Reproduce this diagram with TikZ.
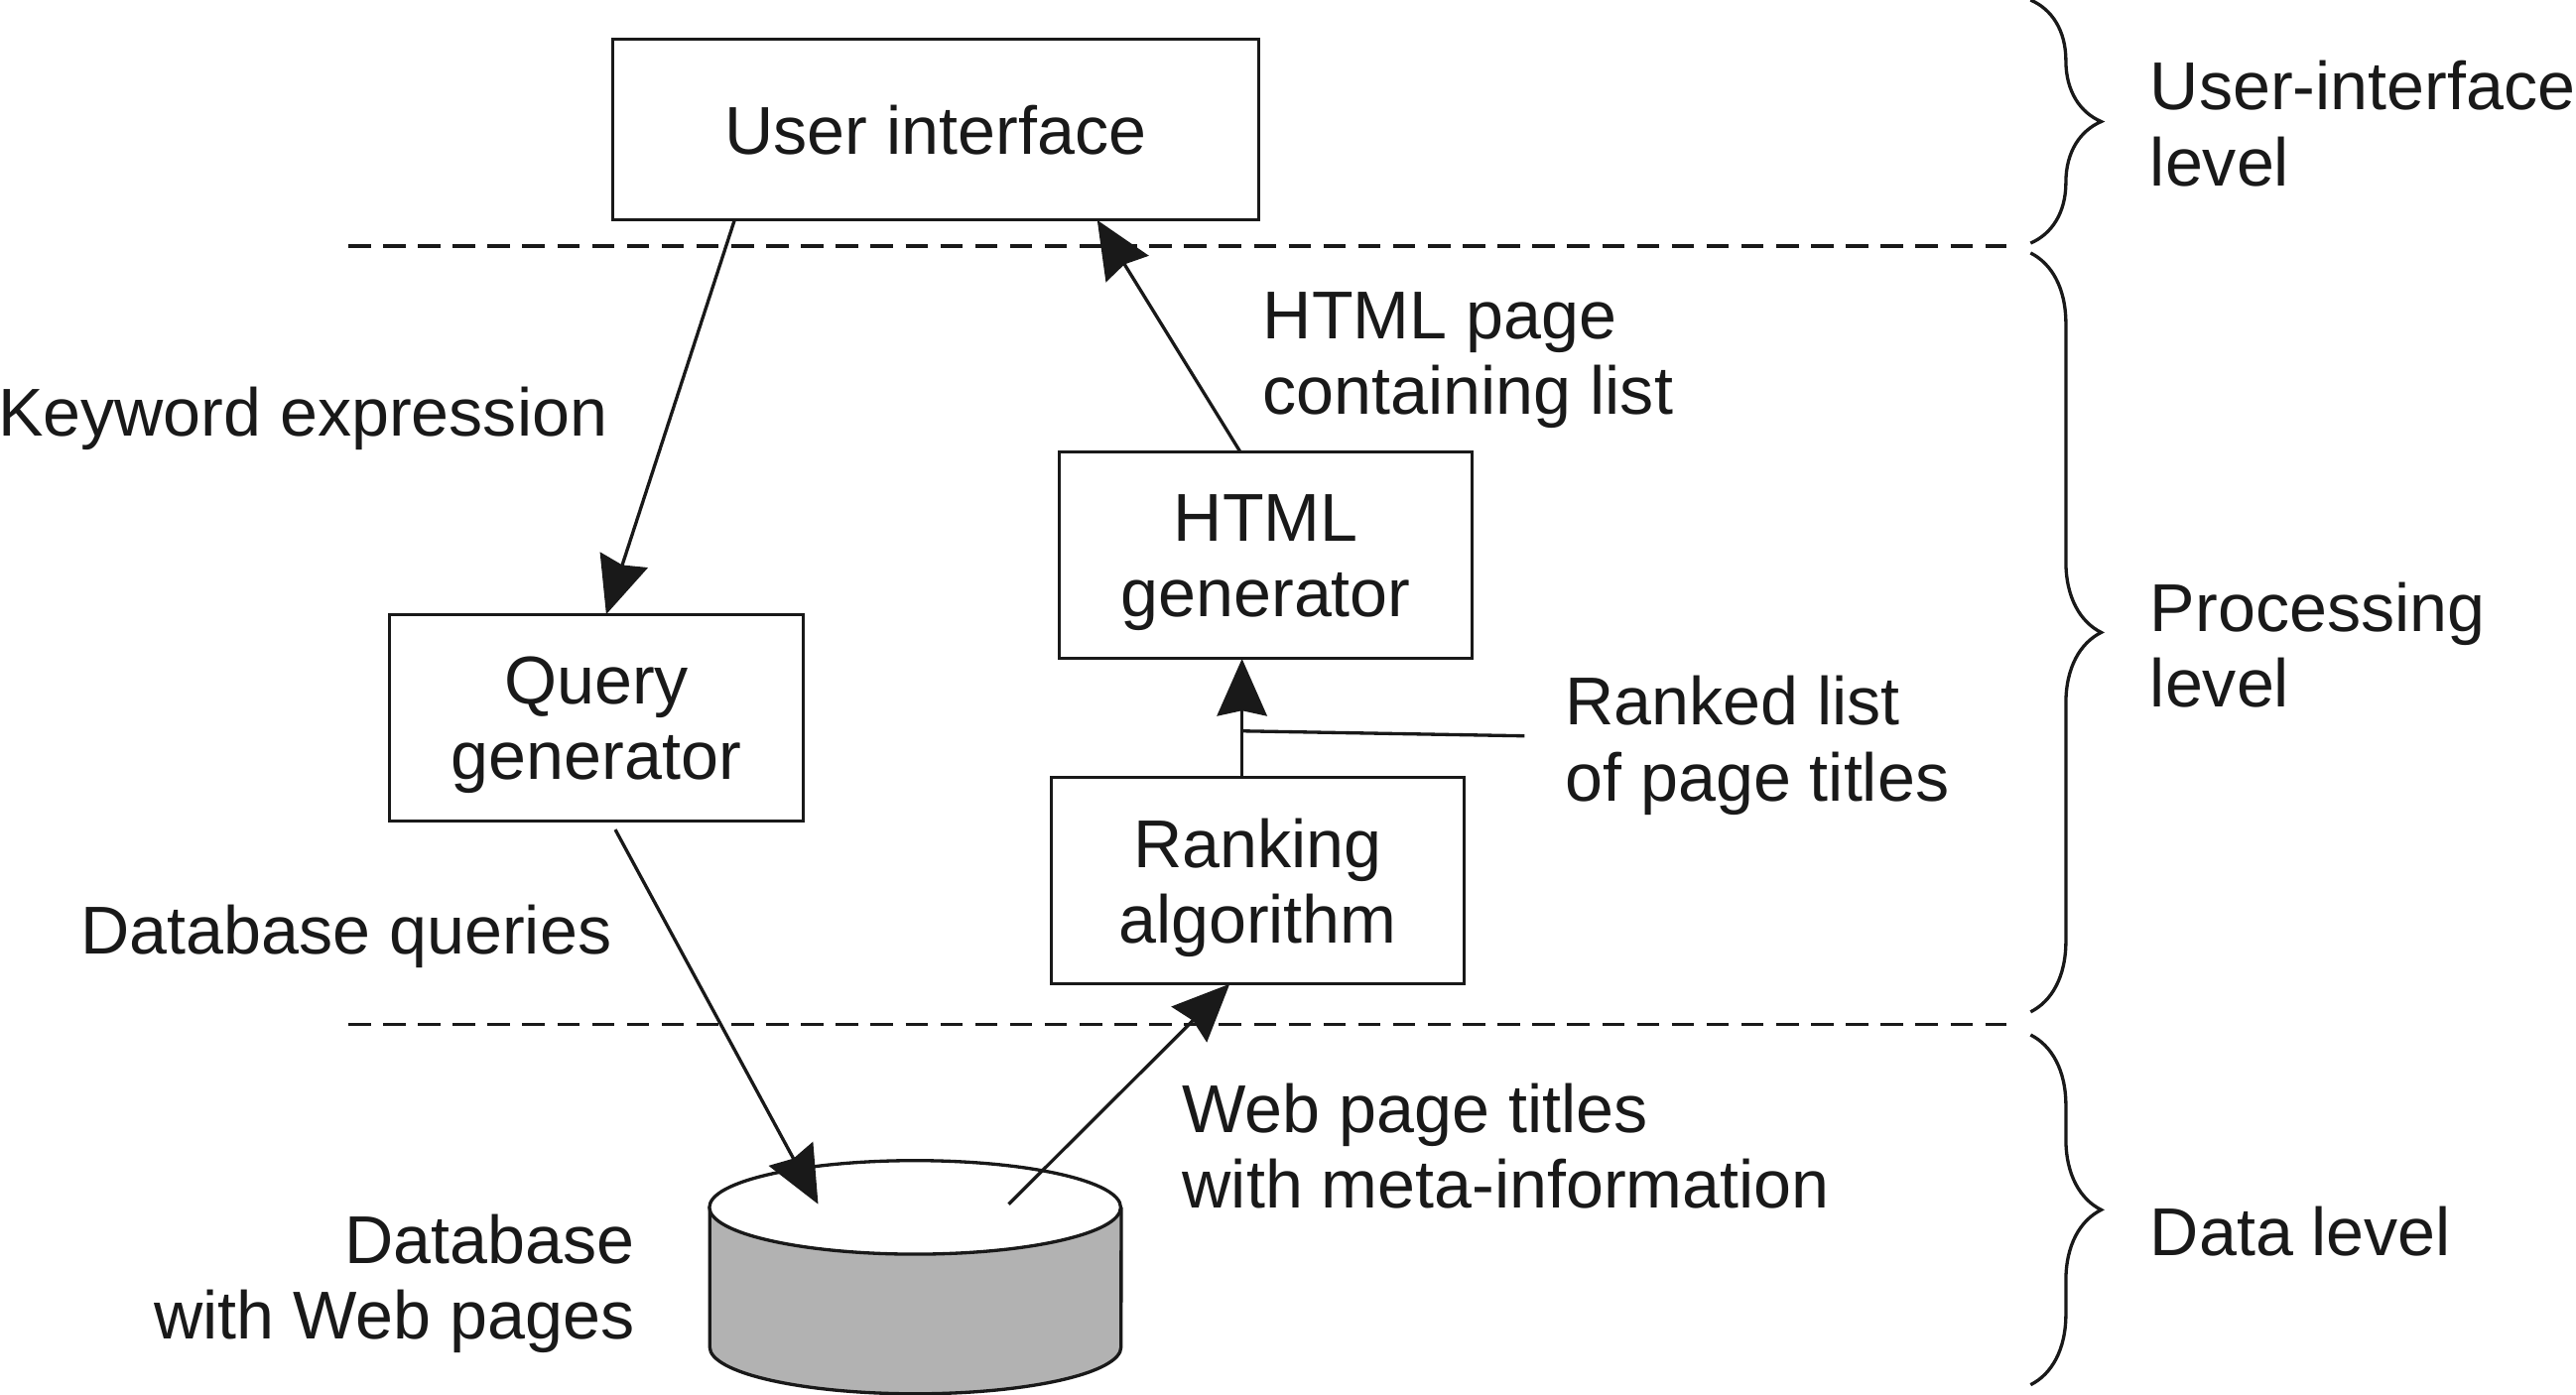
\documentclass[tikz,border=0pt]{standalone}
\usepackage{fontspec}
\setmainfont{Liberation Sans}
\usetikzlibrary{arrows.meta,decorations.pathreplacing}
\definecolor{ink}{gray}{0.1}
\definecolor{dbgray}{gray}{0.70}
\begin{document}
\begin{tikzpicture}[x=0.25pt,y=-0.25pt,
  every node/.style={font=\fontsize{10.3pt}{11.5pt}\selectfont, text=ink},
  box/.style={draw=ink, line width=0.45pt, inner sep=0pt, outer sep=0pt, align=center, text depth=0pt},
  arr/.style={draw=ink, line width=0.5pt, -{Stealth[length=8.7pt,width=7.6pt,inset=0.8pt]}},
  plain/.style={draw=ink, line width=0.5pt},
  lbl/.style={inner sep=0pt, align=left},
  lblr/.style={inner sep=0pt, align=right},
  lvl/.style={draw=ink, dash pattern=on 3.4pt off 1.9pt, line width=0.5pt},
  brc/.style={draw=ink, line width=0.5pt, decorate, decoration={brace, amplitude=10.75pt}}
]
\useasboundingbox (0,0) rectangle (1568,849.2);

% level separators
\draw[lvl] (212,149.7) -- (1221,149.7);
\draw[lvl] (212,623.7) -- (1221,623.7);

% boxes
\node[box, minimum width=98.25pt, minimum height=27.5pt] (ui) at (569.5,79) {User interface};
\node[box, minimum width=63pt, minimum height=31.5pt] (qg) at (363,437) {Query\\generator};
\node[box, minimum width=62.75pt, minimum height=31.5pt] (hg) at (770.5,338) {HTML\\generator};
\node[box, minimum width=62.75pt, minimum height=31.5pt] (ra) at (765.5,536) {Ranking\\algorithm};

% database cylinder
\node[inner sep=0pt, outer sep=0pt, minimum width=62.6pt, minimum height=35.6pt] (db) at (557,777.25) {};
\fill[dbgray] (432,735) -- (432,820) arc[start angle=180, end angle=360, x radius=31.3pt, y radius=7.125pt] -- (682.5,735) -- cycle;
\draw[plain] (432,735) -- (432,820) arc[start angle=180, end angle=360, x radius=31.3pt, y radius=7.125pt] -- (682.5,735);
\draw[plain, fill=white] (557,735) ellipse [x radius=31.3pt, y radius=7.125pt];

% connectors
\draw[arr] ([xshift=-30.6pt]ui.south) -- ([xshift=1.5pt]qg.north);
\draw[arr] ([xshift=-3.9pt]hg.north) -- ([xshift=24.6pt]ui.south);
\draw[arr] ([xshift=-2.375pt]ra.north) -- ([xshift=-2.375pt]ra.north |- hg.south);
\draw[arr] ([shift={(2.875pt,-1.25pt)}]qg.south) -- ([shift={(-14.75pt,-6.75pt)}]db.north);
\draw[arr] ([shift={(14.25pt,-6.75pt)}]db.north) -- ([xshift=-4.25pt]ra.south);
\coordinate (rlj) at (756,445);
\coordinate (rle) at (928,448);
\draw[plain] (rlj) -- (rle);

% labels (base = baseline of the last line)
\node[lbl, anchor=base west] (kw) at (-2,265.6) {Keyword expression};
\node[lbl, anchor=base west] (hp) at (768,252) {HTML page\\containing list};
\node[lbl, anchor=base west] (rl) at (952,487.5) {Ranked list\\of page titles};
\node[lbl, anchor=base west] (dq) at (48.5,580.5) {Database queries};
\node[lbl, anchor=base west] (wp) at (719,735.6) {Web page titles\\with meta-information};
\node[lblr, anchor=base east] (dbl) at (387,815.2) {Database\\with Web pages};

% levels
\draw[brc] (1236,0) -- (1236,148);
\draw[brc] (1236,154) -- (1236,616);
\draw[brc] (1236,630) -- (1236,843);
\node[lbl, anchor=base west] (l1) at (1308,113) {User-interface\\level};
\node[lbl, anchor=base west] (l2) at (1308,430.5) {Processing\\level};
\node[lbl, anchor=base west] (l3) at (1308,764.2) {Data level};
\end{tikzpicture}
\end{document}
